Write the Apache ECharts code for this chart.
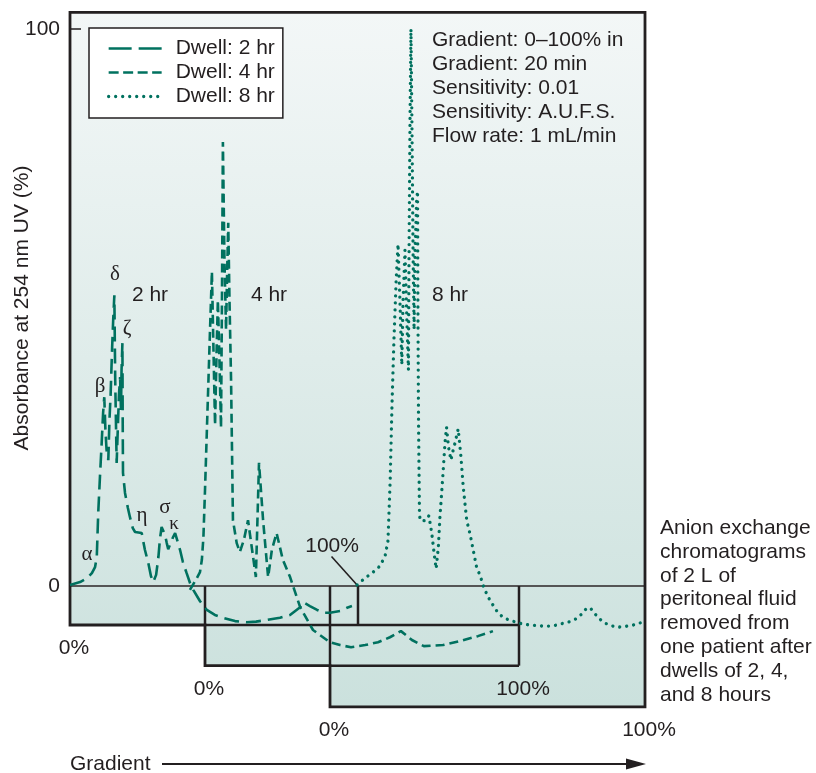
<!DOCTYPE html>
<html><head><meta charset="utf-8">
<script src="https://cdn.jsdelivr.net/npm/echarts@6/dist/echarts.min.js"></script>
<style>html,body{margin:0;padding:0;background:#fff}#c{width:816px;height:773px}</style>
</head><body><div id="c"></div>
<script>
// ---------------- data (x = gradient %, y = absorbance %) ----------------
const seriesNames = ['Dwell: 2 hr', 'Dwell: 4 hr', 'Dwell: 8 hr'];

const dwell2X = [0,3.5,5.9,7.6,8.7,9.3,9.8,10.4,11.0,11.5,11.9,12.3,12.7,13.3,13.7,14.1,14.6,15.0,15.4,15.7,16.2,16.7,17.0,17.4,17.7,17.9,18.2,18.3,18.4,19.1,20.1,20.8,21.8,22.6,24.9,26.0,27.2,28.1,28.9,29.9,30.7,31.2,31.8,32.4,33.0,33.6,34.1,35.1,35.8,36.5,37.3,38.2,39.2,40.5,41.7,42.8,45.1,47.5,50.3,53.1,57.3,61.3,64.6,68.3,72.9,76.4,79.9,80.9,83.3,85.8,88.2,90.3,93.8,96.2,97.9];
const dwell2Y = [0.2,0.7,1.4,2.3,3.4,5.2,13.1,19.6,25.7,31.1,33.9,28.0,24.4,22.6,29.8,34.3,42.4,47.8,52.2,37.0,22.1,29.8,34.3,37.5,31.6,38.8,43.6,29.8,20.3,16.7,14.0,12.4,10.4,9.7,9.5,6.5,4.1,1.8,0.7,2.0,5.2,8.3,10.6,10.8,9.2,7.7,6.6,7.9,8.8,9.5,8.1,6.5,4.3,2.3,0.5,-0.7,-2.7,-4.3,-5.2,-5.7,-6.3,-6.5,-6.4,-6.1,-5.7,-5.2,-3.8,-2.9,-3.6,-4.3,-4.8,-4.8,-4.5,-3.9,-3.6];

const dwell4X = [-4.8,-2.9,-1.6,-1.0,-0.5,0,0.5,1.0,1.6,2.2,2.7,3.2,3.7,4.1,4.6,5.1,5.4,5.7,6.2,6.7,7.0,7.4,7.8,8.3,8.6,8.9,10.1,11.1,12.4,13.7,15.0,16.2,16.7,17.2,18.5,20.1,21.3,22.8,24.8,27.1,30.3,34.4,39.8,43.0,46.5,51.0,55.1,58.9,62.4,65.9,69.7,75.8,81.2,86.9,91.7];
const dwell4Y = [-0.7,1.1,2.5,4.7,8.8,17.2,26.2,35.2,46.0,56.4,42.4,28.9,42.4,51.3,40.6,28.4,51.3,79.7,58.5,46.0,54.9,65.2,51.3,37.0,24.4,11.8,7.7,6.1,8.3,11.8,6.5,1.6,11.8,22.1,11.8,1.6,6.5,9.5,4.7,1.6,-3.8,-7.9,-10.1,-10.6,-11.0,-10.6,-10.1,-9.2,-8.1,-9.7,-10.8,-10.6,-9.9,-9.0,-8.1];

const dwell8X = [8.6,11.1,13.7,15.9,17.5,18.4,19.1,19.7,20.3,21.0,21.6,22.2,22.8,23.2,23.8,24.4,24.9,25.1,25.4,25.7,26.0,26.4,26.7,27.0,27.5,27.8,27.9,28.1,28.4,28.6,30.2,31.4,32.3,33.3,33.7,34.4,34.9,35.8,36.5,37.0,37.6,38.4,39.1,39.7,40.7,41.6,42.3,43.4,44.5,46.6,47.6,48.9,50.8,53.2,54.9,56.8,59.1,61.0,63.2,65.4,67.6,69.9,72.1,74.0,76.2,78.1,80.0,81.3,82.6,83.8,85.4,87.0,89.2,91.1,93.3,95.6,97.8,99.7];
const dwell8Y = [0.2,1.4,2.5,3.6,5.4,8.1,19.0,32.9,44.2,54.9,61.4,51.3,39.7,51.3,60.3,47.8,38.8,60.3,83.7,100,83.7,58.5,46.0,60.3,69.3,70.9,51.3,29.8,13.1,11.8,11.7,12.6,9.5,4.7,3.1,7.0,12.4,19.6,25.7,28.5,25.0,22.6,24.4,25.7,28.2,23.0,17.8,11.8,9.2,3.2,2.0,-0.4,-2.6,-4.7,-5.6,-6.1,-6.5,-6.8,-7.0,-7.1,-7.2,-7.2,-7.0,-6.7,-6.4,-5.9,-5.0,-4.1,-3.9,-4.8,-5.8,-6.6,-7.1,-7.4,-7.3,-7.1,-6.8,-6.3];

const yTickValues = [0, 100];
const xTickValues = [[0], [0, 100], [0, 100]];
const infoLines = ['Gradient: 0\u2013100% in', 'Gradient: 20 min', 'Sensitivity: 0.01', 'Sensitivity: A.U.F.S.', 'Flow rate: 1 mL/min'];
const captionLines = ['Anion exchange', 'chromatograms', 'of 2 L of', 'peritoneal fluid', 'removed from', 'one patient after', 'dwells of 2, 4,', 'and 8 hours'];
const yTitle = 'Absorbance at 254 nm UV (%)';
const xTitle = 'Gradient';

// ---------------- layout / style ----------------
const INK = '#231f20', TEAL = '#00715f';
const FONT = '"Liberation Sans", Arial, Helvetica, sans-serif';
const SERIF = '"Liberation Serif", "DejaVu Serif", serif';
const FS = 21;
const PX = 5.57, Y0 = 586, YMAX = 103;
const boxBottoms = [-7, -14.3, -21.7];
const xMins = [0, -5, 0];
const box0Left = [70, 205, 330], boxWidth = [288, 314, 315];
const TOP = Y0 - YMAX * PX;
const lineStyles = [
  {color: TEAL, width: 2.6, type: [15, 7]},
  {color: TEAL, width: 2.6, type: [9, 5]},
  {color: TEAL, width: 3.3, type: [0.01, 7], cap: 'round'}
];
const legendStyles = [
  {color: TEAL, width: 2.6, type: [23, 7]},
  {color: TEAL, width: 2.6, type: [10, 4.5]},
  {color: TEAL, width: 3.3, type: [0.01, 7], cap: 'round'}
];
const dataSets = [[dwell2X, dwell2Y], [dwell4X, dwell4Y], [dwell8X, dwell8Y]];

const chart = echarts.init(document.getElementById('c'), null, {renderer: 'canvas'});
const option = {
  animation: false,
  backgroundColor: '#fff',
  grid: boxBottoms.map((b, i) => {
    const pxPerPct = boxWidth[i] / 100;
    return {left: box0Left[i] + xMins[i] * pxPerPct, width: (100 - xMins[i]) * pxPerPct, top: TOP, height: (YMAX - b) * PX};
  }),
  xAxis: boxBottoms.map((b, i) => ({
    gridIndex: i, type: 'value', min: xMins[i], max: 100,
    axisLine: {show: false}, axisTick: {show: false}, splitLine: {show: false},
    axisLabel: {customValues: xTickValues[i], formatter: '{value}%', fontSize: FS, color: INK, fontFamily: FONT, margin: 13, padding: [0, 0, 0, 8]}
  })),
  yAxis: boxBottoms.map((b, i) => i === 0 ? ({
    gridIndex: 0, type: 'value', min: b, max: YMAX,
    axisLine: {show: false}, splitLine: {show: false},
    axisTick: {show: true, inside: true, length: 11, customValues: [100], lineStyle: {color: INK, width: 1.5}},
    axisLabel: {customValues: yTickValues, fontSize: FS, color: INK, fontFamily: FONT, margin: 10}
  }) : ({gridIndex: i, type: 'value', min: b, max: YMAX, show: false})),
  legend: {
    left: 89, top: 28, orient: 'vertical',
    backgroundColor: '#fff', borderColor: INK, borderWidth: 1.5,
    padding: [10, 8, 11, 18], itemWidth: 53, itemHeight: 14, itemGap: 3,
    textStyle: {fontSize: FS, color: INK, fontFamily: FONT, padding: [0, 0, 0, 9]},
    data: seriesNames.map((n, i) => ({name: n, lineStyle: legendStyles[i], itemStyle: {color: TEAL, opacity: 0, borderWidth: 0}}))
  },
  series: dataSets.map((d, i) => ({
    name: seriesNames[i], type: 'line', xAxisIndex: i, yAxisIndex: i,
    data: d[0].map((x, k) => [x, d[1][k]]),
    symbol: 'none', clip: false, z: 5,
    itemStyle: {color: TEAL},
    lineStyle: lineStyles[i]
  }))
};
chart.setOption(option);

// ---------------- frame & annotations via the axes' scales ----------------
const P = (g, x, y) => chart.convertToPixel({gridIndex: g}, [x, y]);
const B0 = boxBottoms[0], B1 = boxBottoms[1], B2 = boxBottoms[2];
const outline = [P(0, 0, YMAX), P(2, 100, YMAX), P(2, 100, B2), P(2, 0, B2), P(2, 0, B1), P(1, 0, B1), P(1, 0, B0), P(0, 0, B0)];
const seg = (a, b, color, w, z) => ({type: 'line', z: z || 1, shape: {x1: a[0], y1: a[1], x2: b[0], y2: b[1]}, style: {stroke: color || INK, lineWidth: w || 2.5}});
const txt = (x, y, t, o) => ({type: 'text', x, y, z: 6, style: Object.assign({text: t, fontSize: FS, fontFamily: FONT, fill: INK, align: 'center', verticalAlign: 'middle'}, o || {})});
const lbl100 = P(0, 91, 7.2);

const yTitleEl = txt(22, 308, yTitle, {});
yTitleEl.rotation = Math.PI / 2;

const graphics = [
  {type: 'polygon', z: 0, shape: {points: outline}, style: {
    fill: {type: 'linear', x: 0, y: 0, x2: 0, y2: 1, colorStops: [{offset: 0, color: '#f3f7f7'}, {offset: 1, color: '#cbe1dd'}]},
    stroke: null}},
  seg(P(0, 0, 0), P(2, 100, 0), '#555', 2),
  seg(P(1, 0, B0), P(1, 100, B0)),
  seg(P(0, 100, 0), P(0, 100, B0)),
  seg(P(1, 0, 0), P(1, 0, B0)),
  seg(P(1, 100, 0), P(1, 100, B1)),
  seg(P(2, 0, B1), P(1, 100, B1)),
  seg(P(2, 0, 0), P(2, 0, B1)),
  {type: 'polygon', z: 2, shape: {points: outline}, style: {fill: null, stroke: INK, lineWidth: 2.8}},
  seg(P(0, 90.8, 5.3), P(0, 100, 0), INK, 1.6),
  txt(lbl100[0], lbl100[1], '100%'),
  yTitleEl,
  txt(70, 764, xTitle, {align: 'left'}),
  seg([162, 764], [630, 764], INK, 2.2),
  {type: 'polygon', z: 2, shape: {points: [[626, 758.5], [646, 764], [626, 769.5]]}, style: {fill: INK}},
  {type: 'text', x: 432, y: 28, z: 6, style: {text: infoLines.join('\n'), fontSize: FS, lineHeight: 24, fontFamily: FONT, fill: INK, align: 'left', verticalAlign: 'top'}},
  {type: 'text', x: 660, y: 516, z: 6, style: {text: captionLines.join('\n'), fontSize: FS, lineHeight: 23.9, fontFamily: FONT, fill: INK, align: 'left', verticalAlign: 'top'}},
  txt(150, 295, '2 hr'), txt(269, 295, '4 hr'), txt(450, 295, '8 hr'),
  txt(115, 274, '\u03b4', {fontFamily: SERIF}),
  txt(127, 328, '\u03b6', {fontFamily: SERIF}),
  txt(100, 386, '\u03b2', {fontFamily: SERIF}),
  txt(142, 515, '\u03b7', {fontFamily: SERIF}),
  txt(165, 507, '\u03c3', {fontFamily: SERIF}),
  txt(174, 524, '\u03ba', {fontFamily: SERIF, fontSize: 19}),
  txt(87, 554, '\u03b1', {fontFamily: SERIF})
];
chart.setOption({graphic: graphics});
</script></body></html>
